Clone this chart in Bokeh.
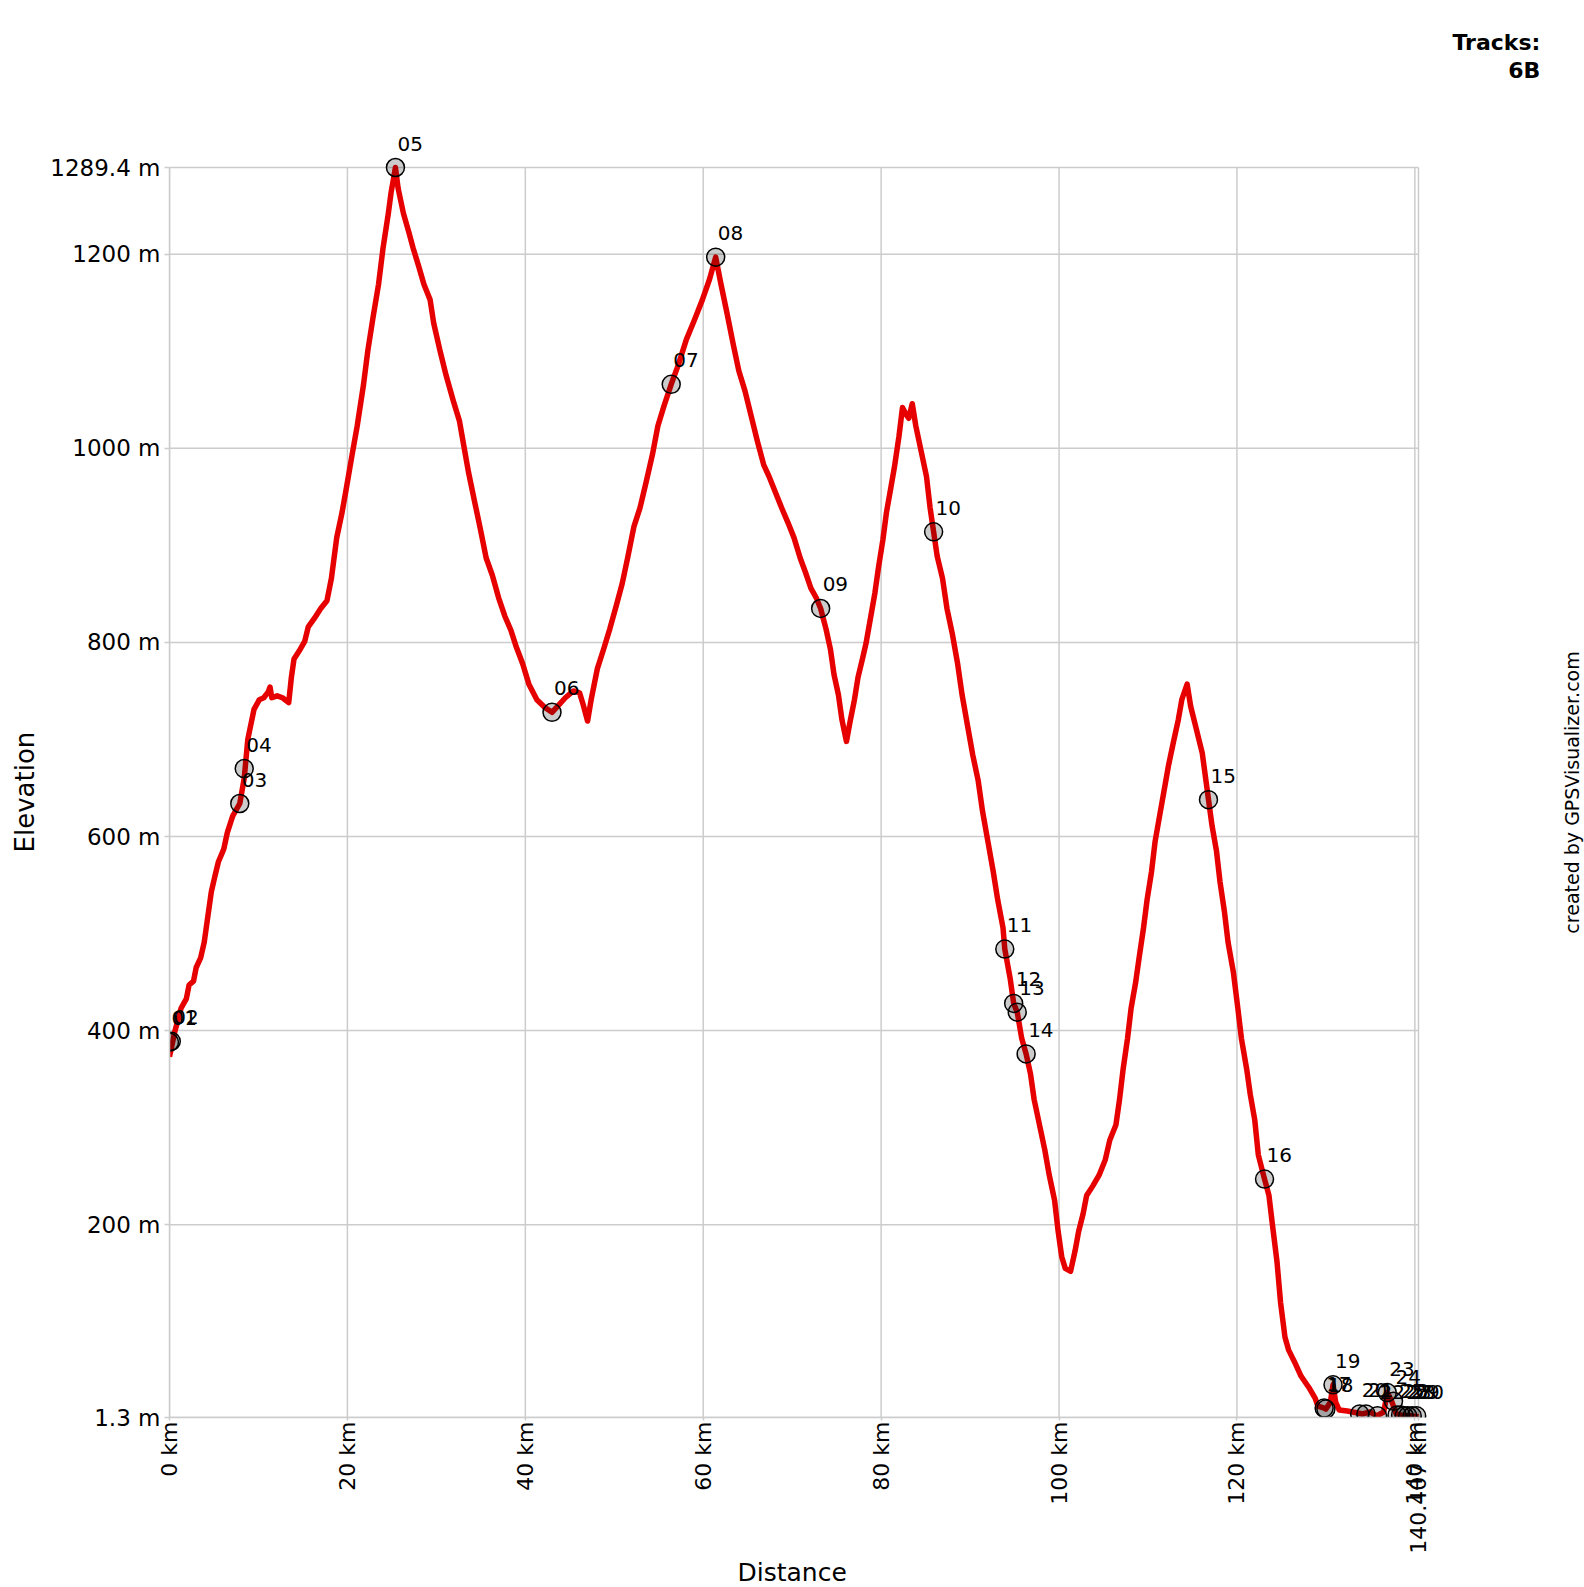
import math
from bokeh.plotting import figure
from bokeh.models import Range1d, FixedTicker, Label, LabelSet, ColumnDataSource, Title
from bokeh.core.properties import value
from bokeh.embed import file_html
from bokeh.resources import INLINE

# ---- track profile (distance km, elevation m) ----
trk_km = [0.0, 0.6, 1.3, 1.9, 2.2, 2.7, 3.0, 3.5, 3.9, 4.3, 4.7, 5.1, 5.5, 6.1, 6.5, 7.1, 7.9,
          8.4, 8.8, 9.5, 10.1, 10.6, 11.1, 11.3, 11.5, 12.1, 12.7, 13.4, 13.7, 14.0, 14.7, 15.2,
          15.6, 16.3, 17.0, 17.7, 18.2, 18.8, 19.4, 19.9, 20.5, 21.1, 21.8, 22.3, 22.9, 23.5,
          24.0, 24.6, 24.9, 25.4,
          25.7, 26.3, 26.9, 27.4, 28.0, 28.6, 29.3, 29.7, 30.4, 31.1, 31.9, 32.6, 33.1, 33.6,
          34.3, 34.9, 35.6, 36.3, 37.0, 37.7, 38.4, 39.0, 39.7, 40.4, 41.3, 42.2, 43.0,
          43.8, 44.5, 45.4, 46.1, 46.5, 47.0, 47.4, 48.1, 48.8, 49.5, 50.2, 50.9, 51.5, 52.2,
          52.9, 53.6, 54.3, 54.9, 55.6, 56.4, 57.2, 58.1, 59.0, 59.9, 60.7, 61.4,
          62.0, 62.7, 63.4, 64.0, 64.7, 65.4, 66.1, 66.8, 67.4, 68.1, 68.8, 69.5, 70.2, 70.9,
          71.5, 72.1, 72.7, 73.2,
          73.8, 74.3, 74.7, 75.2, 75.6, 76.1, 76.5, 77.0, 77.4, 77.9, 78.3, 78.8, 79.3, 79.7,
          80.2, 80.6, 81.1, 81.5, 82.0, 82.4, 82.8, 83.1, 83.5, 83.9, 84.5, 85.1, 85.5, 85.9,
          86.3, 86.9, 87.4, 88.0, 88.6, 89.1, 89.7, 90.3, 90.9, 91.4, 92.0, 92.6, 93.1, 93.7,
          93.9, 94.5, 94.9, 95.3, 95.8, 96.3,
          96.8, 97.2, 97.8, 98.4, 98.9, 99.5, 99.9, 100.3, 100.7, 101.3, 101.8, 102.2, 102.7,
          103.1, 103.8, 104.5, 105.2, 105.7, 106.4, 106.8, 107.2, 107.7, 108.1, 108.6, 109.0,
          109.5, 109.9, 110.4, 110.8, 111.3, 111.8, 112.3, 112.9, 113.4, 113.8, 114.4,
          114.8, 115.4, 116.1, 116.8,
          117.2, 117.7, 118.1, 118.6, 119.0, 119.6, 120.1, 120.5, 121.1, 121.5, 122.0, 122.4,
          123.1, 123.6, 124.0, 124.5, 124.9, 125.4, 125.8, 126.5, 127.2, 128.1, 128.8, 129.1,
          129.8, 130.0, 130.5, 130.8, 131.1, 131.5, 132.4, 133.6, 134.1, 135.0, 135.7, 136.5,
          136.9, 137.4, 137.9, 138.4, 139.0, 139.7, 140.407]
trk_elev = [373, 399, 423, 433, 447, 451, 465, 475, 491, 517, 543, 559, 574, 587, 604, 621, 634,
            660, 700, 731, 741, 743, 749, 754, 743, 745, 743, 738, 764, 783, 793, 801,
            816, 825, 835, 843, 866, 908, 934, 960, 992, 1023, 1065, 1101, 1136, 1169,
            1206, 1242, 1263, 1289.4,
            1268, 1242, 1223, 1206, 1188, 1169, 1153, 1129, 1101, 1075, 1049, 1028, 1002, 976,
            945, 919, 887, 869, 846, 827, 812, 795, 778, 757, 741, 733, 728,
            736, 743, 750, 748, 736, 719, 741, 773, 793, 814, 837, 861, 887, 919,
            939, 966, 994, 1023, 1044, 1066, 1086, 1112, 1132, 1153, 1174, 1197,
            1169, 1138, 1106, 1080, 1059, 1033, 1007, 983, 971, 955, 939, 924, 908, 887,
            872, 856, 846, 835,
            814, 793, 767, 746, 720, 698, 718, 741, 764, 783, 799, 825, 851, 877,
            906, 934, 960, 981, 1012, 1042, 1035, 1031, 1046, 1023, 997, 971, 939, 914,
            889, 866, 835, 809, 778, 746, 715, 684, 658, 626, 595, 564, 535, 506,
            484, 454, 428, 419, 392, 376,
            355, 329, 303, 277, 251, 225, 193, 167, 155, 152, 173, 193, 211,
            230, 240, 251, 267, 287, 303, 329, 360, 392, 423, 449, 475,
            506, 535, 564, 595, 621, 647, 673, 699, 720, 741, 757,
            734, 712, 686, 638,
            611, 585, 553, 522, 491, 460, 423, 392, 360, 334, 308, 272,
            247, 230, 199, 162, 120, 84, 71, 58, 44, 32, 21, 13,
            11, 10, 17, 35, 17, 9, 8, 6, 5, 7, 3, 7,
            27, 18, 5, 4, 3, 3, 2]

# ---- waypoints ----
wpt_name = ["01", "02", "03", "04", "05", "06", "07", "08", "09", "10",
            "11", "12", "13", "14", "15", "16", "17", "18", "19", "20",
            "21", "22", "23", "24", "25", "26", "27", "28", "29", "30"]
wpt_km = [0.0, 0.2, 7.9, 8.4, 25.4, 43.0, 56.4, 61.4, 73.2, 85.9,
          93.9, 94.9, 95.3, 96.3, 116.8, 123.1, 129.8, 130.0, 130.8, 133.8,
          134.5, 135.8, 136.9, 137.6, 138.0, 138.4, 138.8, 139.2, 139.7, 140.2]
wpt_elev = [388, 389, 634, 670, 1289.4, 728, 1066, 1197, 835, 914,
            484, 428, 419, 376, 638, 247, 11, 10, 35, 5,
            5, 3, 27, 18, 4, 4, 3, 3, 3, 3]

# ---- axis ticks ----
x_ticks = [0, 20, 40, 60, 80, 100, 120, 140, 140.407]
x_tick_labels = ["0 km", "20 km", "40 km", "60 km", "80 km", "100 km", "120 km",
                 "140 km", "140.407 km"]
y_ticks = [1.3, 200, 400, 600, 800, 1000, 1200, 1289.4]
y_tick_labels = ["1.3 m", "200 m", "400 m", "600 m", "800 m", "1000 m", "1200 m", "1289.4 m"]

FONT = "DejaVu Sans"
X_MIN, X_MAX = x_ticks[0], x_ticks[-1]
Y_MIN, Y_MAX = y_ticks[0], y_ticks[-1]

# the frame reaches the right and top canvas edges so that notes there are not clipped
p = figure(width=1584, height=1587,
           x_range=Range1d(X_MIN, 159.07), y_range=Range1d(Y_MIN, 1461.5),
           output_backend="svg", toolbar_location=None,
           min_border_left=169, min_border_right=0,
           min_border_top=0, min_border_bottom=170)
p.outline_line_color = None
p.background_fill_color = "white"
p.border_fill_color = "white"
p.xgrid.visible = False
p.ygrid.visible = False

p.xaxis.ticker = FixedTicker(ticks=x_ticks)
p.yaxis.ticker = FixedTicker(ticks=y_ticks)
p.xaxis.bounds = (X_MIN, X_MAX)
p.yaxis.bounds = (Y_MIN, Y_MAX)
p.xaxis.major_label_overrides = dict(zip(x_ticks, x_tick_labels))
p.yaxis.major_label_overrides = dict(zip(y_ticks, y_tick_labels))
p.xaxis.major_label_orientation = math.pi / 2

for ax in (p.xaxis, p.yaxis):
    ax.axis_line_color = "#cccccc"
    ax.axis_line_width = 1.5
    ax.major_tick_line_color = "#cccccc"
    ax.major_tick_line_width = 1.5
    ax.major_tick_in = 0
    ax.minor_tick_line_color = None
    ax.major_label_text_font = FONT
    ax.major_label_text_color = "black"
p.yaxis.major_tick_out = 5
p.yaxis.major_label_standoff = 4
p.yaxis.major_label_text_font_size = "23px"
p.xaxis.major_tick_out = 3
p.xaxis.major_label_standoff = 1
p.xaxis.major_label_text_font_size = "22px"

# axis titles as side-panel titles, placed along the data extent with offset
p.add_layout(Title(text="Elevation", align="left", vertical_align="middle", offset=565,
                   standoff=14, text_font=FONT, text_font_size="26px",
                   text_font_style="normal", text_color="black"), "left")
p.add_layout(Title(text="Distance", align="left", vertical_align="middle", offset=568,
                   standoff=0, text_font=FONT, text_font_size="25px",
                   text_font_style="normal", text_color="black"), "below")

# grid lines, bounded to the data extent
p.segment(x0=x_ticks, x1=x_ticks, y0=[Y_MIN] * len(x_ticks), y1=[Y_MAX] * len(x_ticks),
          line_color="#cccccc", line_width=1.5)
p.segment(x0=[X_MIN] * len(y_ticks), x1=[X_MAX] * len(y_ticks), y0=y_ticks, y1=y_ticks,
          line_color="#cccccc", line_width=1.5)

p.line(trk_km, trk_elev, line_color="#e60000", line_width=5.5, line_join="round")

src = ColumnDataSource(dict(km=wpt_km, elev=wpt_elev, name=wpt_name))
p.scatter("km", "elev", source=src, size=18, fill_color="black", fill_alpha=0.2,
          line_color="black", line_width=1.5)
p.add_layout(LabelSet(x="km", y="elev", text="name", source=src, x_offset=2, y_offset=17,
                      text_font=value(FONT), text_font_size="20px", text_color="black",
                      text_baseline="alphabetic", text_align="left"))

# notes
p.add_layout(Label(x=157.7, y=645.4, text="created by GPSVisualizer.com", angle=math.pi / 2,
                   text_align="center", text_baseline="middle", text_color="black",
                   text_font=FONT, text_font_size="19px"))
p.add_layout(Label(x=154.1, y=1418.6, text="Tracks:", text_align="right",
                   text_baseline="alphabetic", text_font=FONT, text_font_size="22px",
                   text_font_style="bold", text_color="black"))
p.add_layout(Label(x=154.1, y=1389.3, text="6B", text_align="right",
                   text_baseline="alphabetic", text_font=FONT, text_font_size="22px",
                   text_font_style="bold", text_color="black"))

open("out.html", "w").write(file_html(p, INLINE))
